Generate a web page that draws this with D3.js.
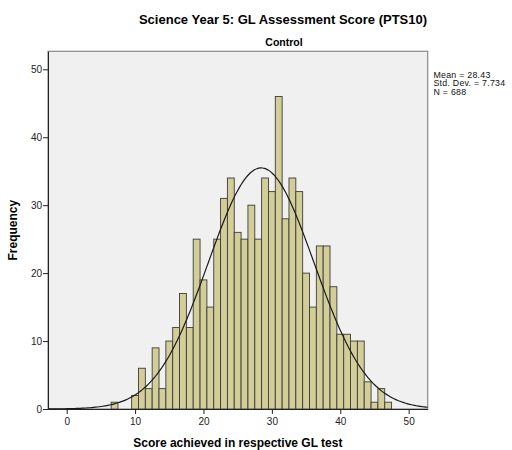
<!DOCTYPE html>
<html>
<head>
<meta charset="utf-8">
<script src="https://cdn.jsdelivr.net/npm/d3@7"></script>
<style>
  body { margin: 0; background: #fff; }
  svg { display: block; font-family: "Liberation Sans", Arial, sans-serif; }
</style>
</head>
<body>
<div id="chart"></div>
<script>
// histogram bins (score, frequency)
const scores = [7, 8, 9, 10, 11, 12, 13, 14, 15, 16, 17, 18, 19, 20, 21, 22, 23, 24, 25, 26, 27,
                28, 29, 30, 31, 32, 33, 34, 35, 36, 37, 38, 39, 40, 41, 42, 43, 44, 45, 46, 47];
const counts = [1, 0, 0, 2, 6, 3, 9, 3, 10, 12, 17, 12, 25, 19, 15, 25, 31, 34, 26, 25, 30,
                25, 34, 32, 46, 28, 34, 32, 20, 15, 24, 24, 18, 11, 11, 10, 10, 4, 1, 3, 1];
const xTicks = [0, 10, 20, 30, 40, 50];
const yTicks = [0, 10, 20, 30, 40, 50];
const statsLines = ["Mean = 28.43", "Std. Dev. = 7.734", "N = 688"];
const mean = 28.43, sd = 7.734, n = 688;

const svgWidth = 512, svgHeight = 450;
const plot = { left: 48, right: 427.7, top: 51.3, bottom: 409 };

const svg = d3.select('#chart').append('svg')
    .attr('width', svgWidth).attr('height', svgHeight);

const x = d3.scaleLinear().domain([-2.73, 52.78]).range([plot.left, plot.right]);
const y = d3.scaleLinear().domain([0, 52.65]).range([plot.bottom, plot.top]);

// titles
svg.append('text')
    .attr('x', 283).attr('y', 24)
    .attr('text-anchor', 'middle')
    .style('font-size', '13px').style('font-weight', 'bold')
    .text('Science Year 5: GL Assessment Score (PTS10)');
svg.append('text')
    .attr('x', 284).attr('y', 46)
    .attr('text-anchor', 'middle')
    .style('font-size', '10.5px').style('font-weight', 'bold')
    .text('Control');

// plot background
svg.append('rect')
    .attr('x', plot.left).attr('y', plot.top)
    .attr('width', plot.right - plot.left).attr('height', plot.bottom - plot.top)
    .style('fill', '#f0f0f0')
    .style('stroke', '#8a8a8a').style('stroke-width', 1.2);

// bars, one unit wide centred on each score
const data = scores.map((s, i) => [s, counts[i]]).filter(d => d[1] > 0);
svg.append('g').selectAll('rect')
    .data(data)
    .join('rect')
    .attr('x', d => x(d[0] - 0.5))
    .attr('y', d => y(d[1]))
    .attr('width', d => x(d[0] + 0.5) - x(d[0] - 0.5))
    .attr('height', d => y(0) - y(d[1]))
    .style('fill', '#d3ce97')
    .style('stroke', '#3c3c3c')
    .style('stroke-width', 0.9);

// normal curve from the summary stats
const curvePts = d3.range(200 + 1).map(i => {
    const v = x.domain()[0] + (x.domain()[1] - x.domain()[0]) * i / 200;
    const z = (v - mean) / sd;
    return [v, n / (sd * Math.sqrt(2 * Math.PI)) * Math.exp(-0.5 * z * z)];
});
svg.append('path')
    .datum(curvePts)
    .attr('d', d3.line().x(d => x(d[0])).y(d => y(d[1])).curve(d3.curveBasis))
    .style('fill', 'none').style('stroke', '#1a1a1a').style('stroke-width', 1.2);

// axes
const xAxis = svg.append('g')
    .attr('transform', `translate(0, ${plot.bottom})`)
    .call(d3.axisBottom(x).tickValues(xTicks).tickSize(5).tickSizeOuter(0).tickPadding(4));
const yAxis = svg.append('g')
    .attr('transform', `translate(${plot.left}, 0)`)
    .call(d3.axisLeft(y).tickValues(yTicks).tickSize(5).tickSizeOuter(0).tickPadding(1));
[xAxis, yAxis].forEach(a => {
    a.select('.domain').style('stroke', '#222');
    a.selectAll('.tick line').style('stroke', '#222');
    a.selectAll('.tick text')
        .style('font-size', '10px').style('fill', '#222')
        .style('font-family', '"Liberation Sans", Arial, sans-serif');
});

// axis titles
svg.append('text')
    .attr('transform', `translate(17, ${(plot.top + plot.bottom) / 2}) rotate(-90)`)
    .attr('text-anchor', 'middle')
    .style('font-size', '12px').style('font-weight', 'bold')
    .text('Frequency');
svg.append('text')
    .attr('x', (plot.left + plot.right) / 2).attr('y', 447)
    .attr('text-anchor', 'middle')
    .style('font-size', '12px').style('font-weight', 'bold')
    .text('Score achieved in respective GL test');

// stats box text
svg.append('g').selectAll('text')
    .data(statsLines)
    .join('text')
    .attr('x', 433.5)
    .attr('y', (d, i) => 77.5 + i * 8.6)
    .style('font-size', '8.8px').style('letter-spacing', '0.25px').style('fill', '#111')
    .text(d => d);
</script>
</body>
</html>
